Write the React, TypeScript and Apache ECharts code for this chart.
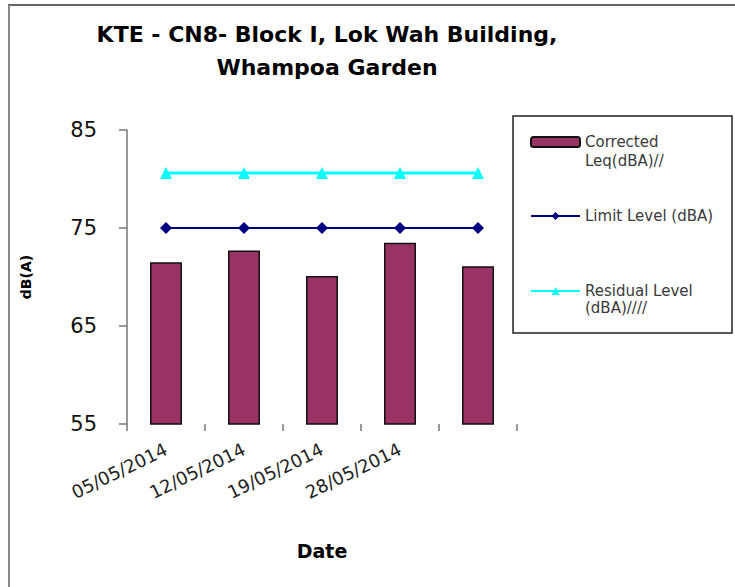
import React, { useEffect, useRef } from 'react';
import * as echarts from 'echarts';

const categories = ['05/05/2014', '12/05/2014', '19/05/2014', '28/05/2014', ''];
const correctedLeq = [71.5, 72.7, 70.1, 73.5, 71.1];
const limitLevel = [75, 75, 75, 75, 75];
const residualLevel = [80.6, 80.6, 80.6, 80.6, 80.6];
const yTicks = [55, 65, 75, 85];
const seriesNames = ['Corrected Leq(dBA)//', 'Limit Level (dBA)', 'Residual Level (dBA)////'];
const legendLabels = ['\nCorrected\nLeq(dBA)//', 'Limit Level (dBA)', '\nResidual Level\n(dBA)////'];
const titleText = 'KTE - CN8- Block I, Lok Wah Building,\nWhampoa Garden';

const FONT = 'DejaVu Sans';

export default function App() {
  const ref = useRef<HTMLDivElement>(null);
  useEffect(() => {
    document.body.style.margin = '0';
    const chart = echarts.init(ref.current!, null, { renderer: 'svg' });
    const legendText = (lh: number) => ({
      fontFamily: FONT,
      fontSize: 15,
      color: '#3a3a3a',
      lineHeight: lh,
    });
    const option: any = {
      animation: false,
      backgroundColor: '#fff',
      title: {
        text: titleText,
        left: 327,
        top: 18,
        textAlign: 'center',
        padding: 0,
        textStyle: {
          fontFamily: FONT,
          fontWeight: 'bold',
          fontSize: 22,
          lineHeight: 33,
          color: '#000',
        },
      },
      grid: { left: 127, right: 218, top: 130, bottom: 163 },
      legend: [
        {
          data: [seriesNames[0]],
          left: 530,
          top: 113.5,
          padding: 0,
          orient: 'vertical',
          itemWidth: 49,
          itemHeight: 10,
          selectedMode: false,
          formatter: () => legendLabels[0],
          textStyle: legendText(19),
        },
        {
          data: [seriesNames[1]],
          left: 530,
          top: 208,
          padding: 0,
          orient: 'vertical',
          itemWidth: 49,
          itemHeight: 10,
          selectedMode: false,
          formatter: () => legendLabels[1],
          textStyle: legendText(16),
        },
        {
          data: [seriesNames[2]],
          left: 530,
          top: 265.5,
          padding: 0,
          orient: 'vertical',
          itemWidth: 49,
          itemHeight: 10,
          selectedMode: false,
          formatter: () => legendLabels[2],
          textStyle: legendText(17),
        },
      ],
      xAxis: {
        type: 'category',
        data: categories,
        boundaryGap: true,
        name: 'Date',
        nameLocation: 'middle',
        nameGap: 117,
        nameTextStyle: { fontFamily: FONT, fontWeight: 'bold', fontSize: 19, color: '#000' },
        axisLine: { show: false },
        axisTick: { show: true, length: 7, interval: 0, lineStyle: { color: '#777', width: 1.5 } },
        axisLabel: {
          interval: 0,
          rotate: 26,
          margin: 24,
          fontFamily: FONT,
          fontSize: 18,
          color: '#222',
        },
      },
      yAxis: {
        type: 'value',
        min: 55,
        max: 85,
        name: 'dB(A)',
        nameLocation: 'middle',
        nameGap: 94,
        nameRotate: 90,
        nameTextStyle: { fontFamily: FONT, fontWeight: 'bold', fontSize: 14, color: '#000' },
        splitLine: { show: false },
        axisLine: { show: true, lineStyle: { color: '#777', width: 1.5 } },
        axisTick: { show: true, length: 8, inside: false, customValues: yTicks, lineStyle: { color: '#777', width: 1.5 } },
        axisLabel: {
          customValues: yTicks,
          margin: 30,
          fontFamily: FONT,
          fontSize: 21,
          color: '#111',
        },
      },
      series: [
        {
          name: seriesNames[0],
          type: 'bar',
          data: correctedLeq,
          barWidth: '41%',
          itemStyle: { color: '#993366', borderColor: '#111', borderWidth: 1.5 },
          z: 2,
        },
        {
          name: seriesNames[1],
          type: 'line',
          data: limitLevel,
          symbol: 'diamond',
          symbolSize: 12,
          lineStyle: { color: '#000080', width: 2 },
          itemStyle: { color: '#000080' },
          z: 3,
        },
        {
          name: seriesNames[2],
          type: 'line',
          data: residualLevel,
          symbol: 'triangle',
          symbolSize: 12,
          lineStyle: { color: '#00FFFF', width: 3 },
          itemStyle: { color: '#00FFFF' },
          z: 3,
        },
      ],
      graphic: [
        {
          type: 'line',
          shape: { x1: 8, y1: 5, x2: 735, y2: 5 },
          style: { stroke: '#666', lineWidth: 2 },
        },
        {
          type: 'line',
          shape: { x1: 9, y1: 5, x2: 9, y2: 587 },
          style: { stroke: '#888', lineWidth: 2 },
        },
        {
          type: 'rect',
          shape: { x: 513, y: 116, width: 219, height: 217 },
          style: { fill: 'none', stroke: '#222', lineWidth: 1.5 },
        },
      ],
    };
    chart.setOption(option);
    return () => chart.dispose();
  }, []);
  return <div ref={ref} style={{ width: 735, height: 587 }} />;
}
